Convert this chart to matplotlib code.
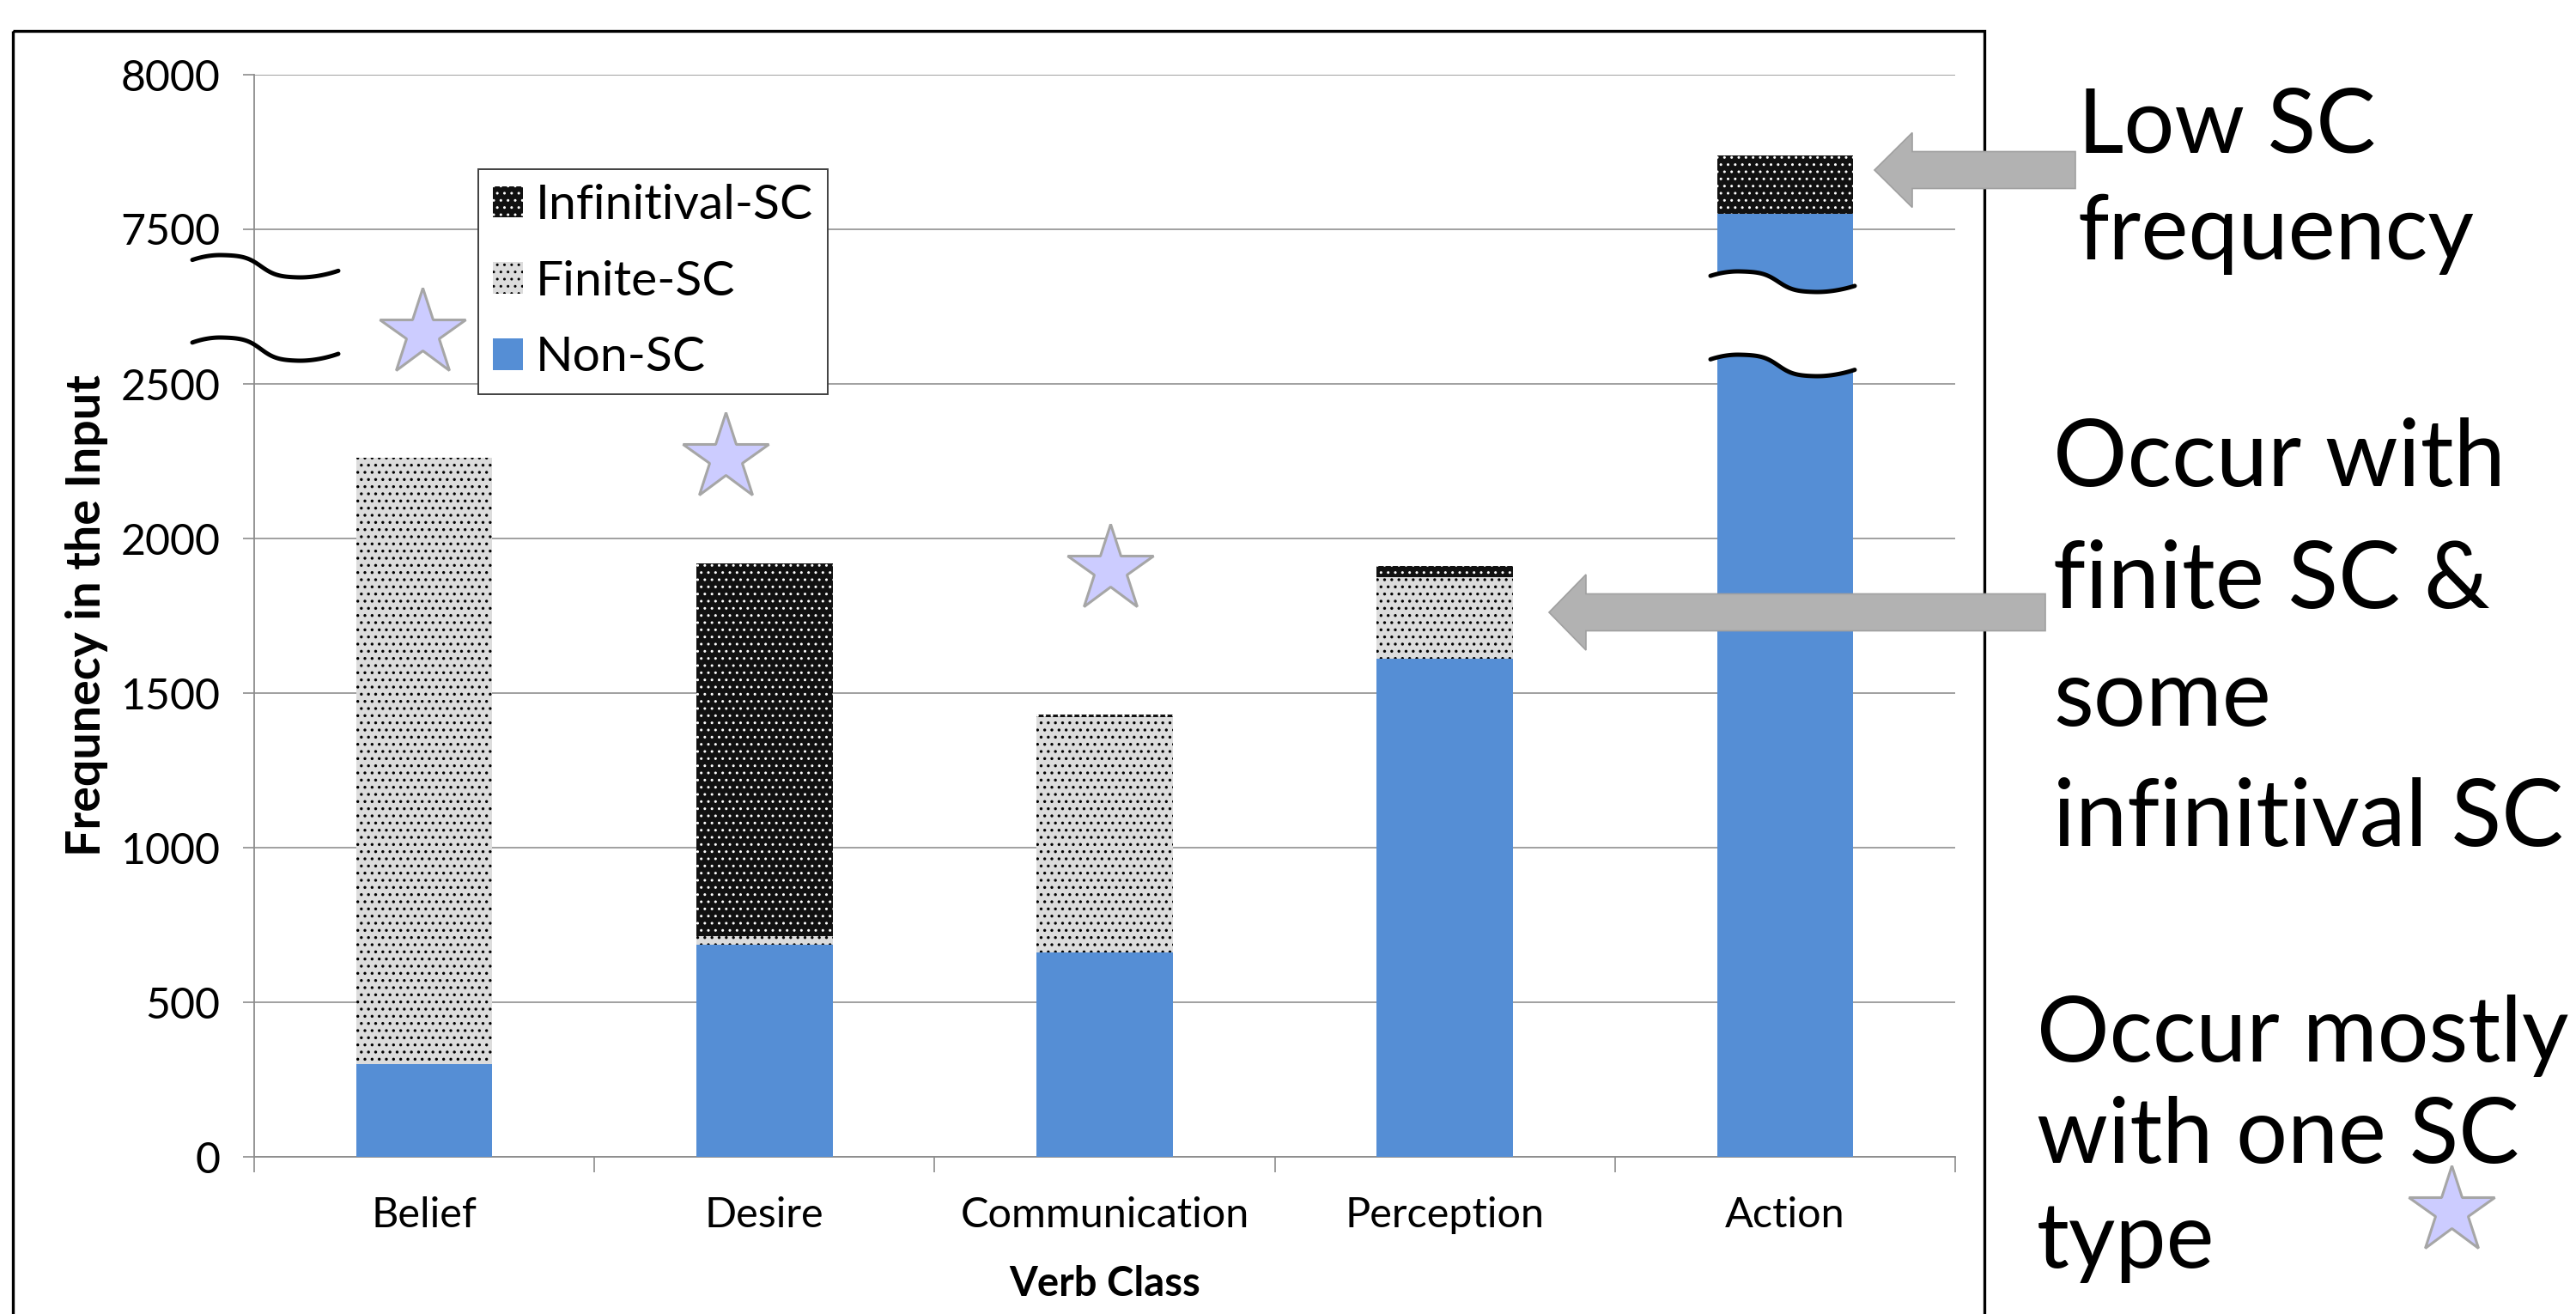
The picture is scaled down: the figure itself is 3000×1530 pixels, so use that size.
import numpy as np
import matplotlib
matplotlib.use("Agg")
import matplotlib.pyplot as plt
from matplotlib import font_manager
from matplotlib.patches import Rectangle, Polygon
from matplotlib.lines import Line2D
from matplotlib.transforms import Affine2D

# ---- data -------------------------------------------------------------
categories = ["Belief", "Desire", "Communication", "Perception", "Action"]
non_sc = [300, 685, 660, 1610, 7550]
finite_sc = [1960, 30, 762, 265, 0]
infinitival_sc = [0, 1205, 8, 35, 190]

ytick_values = [0, 500, 1000, 1500, 2000, 2500, 7500, 8000]
ytick_labels = ["0", "500", "1000", "1500", "2000", "2500", "7500", "8000"]

series_labels = ["Infinitival-SC", "Finite-SC", "Non-SC"]

notes_low = ["Low SC", "frequency"]
notes_mixed = ["Occur with", "finite SC &", "some", "infinitival SC"]
notes_one = ["Occur mostly", "with one SC", "type"]

# ---- styling ----------------------------------------------------------
plt.rcParams["font.family"] = ["Lato", "DejaVu Sans"]
installed = {f.name for f in font_manager.fontManager.ttflist}
NOTE_FONT = next((f for f in ("Liberation Sans Narrow", "Lato") if f in installed),
                 "DejaVu Sans")

BLUE = "#558ED5"
GRID = "#A0A0A0"
AXIS = "#8C8C8C"
STAR_FILL = "#CCCCFF"
STAR_EDGE = "#A6A6A6"
ARROW_FILL = "#B2B2B2"
ARROW_EDGE = "#A0A0A0"

W, H, DPI = 3000, 1530, 100
fig = plt.figure(figsize=(W / DPI, H / DPI), dpi=DPI)
fig.patch.set_facecolor("white")

# pixel coordinates measured from the top-left corner
px = Affine2D().scale(1.0 / W, -1.0 / H).translate(0, 1) + fig.transFigure

# ---- broken y axis: 2750..7250 is collapsed ---------------------------
LO, HI = 2750.0, 7250.0
GAP = HI - LO
EPS = 1e-6


def fwd(v):
    v = np.asarray(v, dtype=float)
    return np.where(v <= LO, v,
                    np.where(v >= HI, v - GAP + GAP * EPS, LO + (v - LO) * EPS))


def inv(u):
    u = np.asarray(u, dtype=float)
    top = LO + GAP * EPS
    return np.where(u <= LO, u,
                    np.where(u >= top, u + GAP - GAP * EPS, LO + (u - LO) / EPS))


ax_left, ax_right, ax_top, ax_bottom = 296, 2277, 87, 1347
ax = fig.add_axes([ax_left / W, 1 - ax_bottom / H,
                   (ax_right - ax_left) / W, (ax_bottom - ax_top) / H])
ax.set_yscale("function", functions=(fwd, inv))
ax.set_ylim(0, 8000)
x = np.arange(len(categories))
ax.set_xlim(-0.5, len(categories) - 0.5)

bar_w = 0.4
non_arr = np.array(non_sc, dtype=float)
fin_arr = np.array(finite_sc, dtype=float)
inf_arr = np.array(infinitival_sc, dtype=float)

ax.bar(x, non_arr, width=bar_w, color=BLUE, linewidth=0, zorder=3)
with plt.rc_context({"hatch.color": "black", "hatch.linewidth": 1.2}):
    ax.bar(x, fin_arr, bottom=non_arr, width=bar_w, color="#DCDCDC",
           hatch="..", linewidth=0, zorder=3)
    fin_proxy = Rectangle((0, 0), 1, 1, facecolor="#DCDCDC", hatch="..",
                          linewidth=0)
with plt.rc_context({"hatch.color": "white", "hatch.linewidth": 1.0}):
    ax.bar(x, inf_arr, bottom=non_arr + fin_arr, width=bar_w, color="#111111",
           hatch="..", linewidth=0, zorder=3)
    inf_proxy = Rectangle((0, 0), 1, 1, facecolor="#111111", hatch="..",
                          linewidth=0)
non_proxy = Rectangle((0, 0), 1, 1, facecolor=BLUE, linewidth=0)

# axes, ticks, grid
for side in ("top", "right"):
    ax.spines[side].set_visible(False)
for side in ("left", "bottom"):
    ax.spines[side].set_color(AXIS)
    ax.spines[side].set_linewidth(1.3)

ax.set_yticks(ytick_values)
ax.set_yticklabels(ytick_labels)
ax.yaxis.set_minor_locator(matplotlib.ticker.NullLocator())
ax.tick_params(axis="y", which="major", length=9.5, width=1.2, color=AXIS,
               pad=19, labelsize=36)
ax.grid(axis="y", color=GRID, linewidth=1.4, zorder=0)
ax.set_axisbelow(True)

ax.set_xticks(x)
ax.set_xticklabels(categories)
ax.set_xticks(np.arange(-0.5, len(categories)), minor=True)
ax.tick_params(axis="x", which="major", length=0, pad=33, labelsize=35)
ax.tick_params(axis="x", which="minor", length=13, width=1.2, color=AXIS)

ax.set_ylabel("Frequnecy in the Input", fontsize=40, fontweight="bold")
ax.yaxis.set_label_coords(-0.086, 0.5)
ax.set_xlabel("Verb Class", fontsize=34, fontweight="bold")
ax.xaxis.set_label_coords(0.5, -0.100)

leg = ax.legend([inf_proxy, fin_proxy, non_proxy], series_labels,
                loc="upper left", bbox_to_anchor=(557 / W, 1 - 197 / H),
                bbox_transform=fig.transFigure, borderaxespad=0,
                fontsize=41, handlelength=0.62, handleheight=0.62,
                handletextpad=0.26, labelspacing=0.66, borderpad=0.3,
                fancybox=False, framealpha=1, edgecolor="#404040")
leg.get_frame().set_linewidth(1.4)
leg.set_zorder(6)


# ---- break marks ------------------------------------------------------
def wave(x0, w, y0, h, n=90):
    t = np.linspace(0, 1, n)
    s = 0.5 + 0.5 * np.tanh((t - 0.47) * 9)
    s = s + 0.22 * np.clip((0.2 - t) / 0.2, 0, None) ** 2
    s = s - 0.30 * np.clip((t - 0.72) / 0.28, 0, None) ** 2
    s = (s - s.min()) / (s.max() - s.min())
    return x0 + t * w, y0 + s * h


wave_lw = 3.6
for y0, h in ((297, 26), (393, 27)):
    wx, wy = wave(224, 170, y0, h)
    fig.add_artist(Line2D(wx, wy, color="black", lw=wave_lw,
                          solid_capstyle="round", transform=px, zorder=7))

ux, uy = wave(1992, 168, 316, 24)
lx, ly = wave(1992, 168, 413, 25)
gap = Polygon(np.column_stack([np.r_[ux, lx[::-1]], np.r_[uy, ly[::-1]]]),
              closed=True, facecolor="white", edgecolor="none",
              transform=px, zorder=6)
fig.add_artist(gap)
for wx, wy in ((ux, uy), (lx, ly)):
    fig.add_artist(Line2D(wx, wy, color="black", lw=wave_lw,
                          solid_capstyle="round", transform=px, zorder=7))

# ---- frame around the chart ------------------------------------------
fig.add_artist(Rectangle((15, 36), 2296, 1700, fill=False, edgecolor="black",
                         linewidth=2.4, transform=px, zorder=8))


# ---- arrows -----------------------------------------------------------
def left_arrow(tip_x, tip_y, head_x, tail_x, shaft_half, head_half):
    pts = [(tip_x, tip_y),
           (head_x, tip_y - head_half), (head_x, tip_y - shaft_half),
           (tail_x, tip_y - shaft_half), (tail_x, tip_y + shaft_half),
           (head_x, tip_y + shaft_half), (head_x, tip_y + head_half)]
    fig.add_artist(Polygon(pts, closed=True, facecolor=ARROW_FILL,
                           edgecolor=ARROW_EDGE, linewidth=1.2,
                           transform=px, zorder=9))


left_arrow(2183, 198, 2227, 2417, 21.5, 43.5)
left_arrow(1804, 713, 1847, 2382, 21.5, 44)

# ---- stars ------------------------------------------------------------
for sx, sy in ((492, 388), (845, 533), (1293, 663), (2855, 1410)):
    fig.add_artist(Line2D([sx], [sy], marker="*", markersize=76,
                          markerfacecolor=STAR_FILL, markeredgecolor=STAR_EDGE,
                          markeredgewidth=2.2, linestyle="none",
                          transform=px, zorder=9))

# ---- side notes -------------------------------------------------------
# (lines, left x, baselines, nominal size, target width of the widest line)
note_blocks = [
    (notes_low, 2420, (178, 302), 96, 462),
    (notes_mixed, 2391, (566, 708, 845, 985), 88, 594),
    (notes_one, 2372, (1236, 1354, 1476), 82, 620),
]
renderer = fig.canvas.get_renderer()
for lines, left, bases, size, target in note_blocks:
    texts = [fig.text(left, b, s, fontsize=size, family=NOTE_FONT,
                      va="baseline", ha="left", transform=px)
             for s, b in zip(lines, bases)]
    widest = max(t.get_window_extent(renderer).width for t in texts)
    scale = float(np.clip(target / widest, 0.7, 1.05))
    scale = min(scale, (2992 - left) / widest)
    for t in texts:
        t.set_fontsize(size * scale)

fig.savefig("out.png", dpi=DPI, facecolor="white")
